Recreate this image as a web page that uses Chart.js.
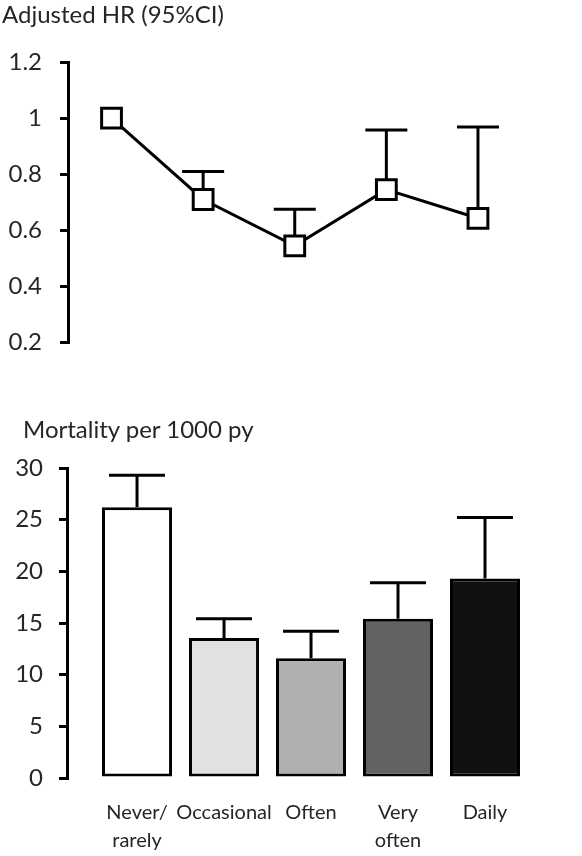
<!DOCTYPE html>
<html>
<head>
<meta charset="utf-8">
<script src="https://cdn.jsdelivr.net/npm/chart.js@4"></script>
<style>
  html, body { margin: 0; padding: 0; background: #fff; }
  body { width: 582px; height: 856px; position: relative; overflow: hidden; font-family: Lato, sans-serif; color: #262626; }
  .box { position: absolute; left: 0; width: 582px; }
  #top { top: 0; height: 375px; }
  #bottom { top: 415px; height: 441px; }
  .caption { position: absolute; font-size: 24px; line-height: 28px; white-space: nowrap; }
  #hrCaption { left: 2px; top: 0px; }
  #mortCaption { left: 23px; top: 415px; }
</style>
</head>
<body>
<div class="box" id="top"><canvas id="hr"></canvas></div>
<div class="box" id="bottom"><canvas id="mort"></canvas></div>
<div class="caption" id="hrCaption">Adjusted HR (95%CI)</div>
<div class="caption" id="mortCaption">Mortality per 1000 py</div>
<script>
const categories = ["Never/ rarely", "Occasional", "Often", "Very often", "Daily"];
const categoryTicks = [["Never/", "rarely"], ["Occasional"], ["Often"], ["Very", "often"], ["Daily"]];
const hrValues = [1.0, 0.71, 0.545, 0.745, 0.643];
const hrUpper = [null, 0.81, 0.675, 0.958, 0.968];
const mortValues = [26.2, 13.55, 11.6, 15.4, 19.3];
const mortUpper = [29.3, 15.4, 14.2, 18.9, 25.2];
const barColors = ["#ffffff", "#e1e1e1", "#b0b0b0", "#626262", "#111111"];

const textColor = "#262626";
const fontName = "Lato";

function errorBars(upper, values, capWidth, before) {
  function draw(chart) {
    var ctx = chart.ctx;
    var xs = chart.scales.x;
    var ys = chart.scales.y;
    ctx.save();
    ctx.strokeStyle = "#000";
    ctx.lineWidth = 3;
    for (var i = 0; i < values.length; i++) {
      if (upper[i] == null) continue;
      var x = xs.getPixelForValue(i);
      var y0 = ys.getPixelForValue(values[i]);
      var y1 = ys.getPixelForValue(upper[i]);
      ctx.beginPath();
      ctx.moveTo(x, y0);
      ctx.lineTo(x, y1);
      ctx.moveTo(x - capWidth / 2, y1);
      ctx.lineTo(x + capWidth / 2, y1);
      ctx.stroke();
    }
    ctx.restore();
  }
  if (before) return { id: "errBefore", beforeDatasetsDraw: draw };
  return { id: "errAfter", afterDatasetsDraw: draw };
}

function yAxis(min, max, step, width, pad, fmt) {
  return {
    min: min,
    max: max,
    ticks: {
      stepSize: step,
      color: textColor,
      font: { family: fontName, size: 24 },
      padding: pad,
      callback: fmt,
    },
    grid: { drawOnChartArea: false, color: "#000", lineWidth: 3, tickLength: 8 },
    border: { color: "#000", width: 3 },
    afterFit: function (s) { s.width = width; },
  };
}

new Chart(document.getElementById("hr"), {
  type: "line",
  data: {
    datasets: [
      {
        label: "Adjusted HR",
        data: hrValues.map(function (v, i) { return { x: i, y: v }; }),
        borderColor: "#000",
        borderWidth: 3,
        tension: 0,
        pointStyle: "rect",
        pointRadius: 14,
        pointBorderWidth: 3,
        pointBorderColor: "#000",
        pointBackgroundColor: "#fff",
      },
    ],
  },
  options: {
    animation: false,
    responsive: true,
    maintainAspectRatio: false,
    layout: { padding: { left: 0, right: 0, top: 62, bottom: 28 } },
    plugins: {
      legend: { display: false },
      tooltip: { enabled: false },
    },
    scales: {
      x: { type: "linear", display: false, min: -0.475, max: 4.95 },
      y: yAxis(0.2, 1.2, 0.2, 68, 18, function (v) { return String(Math.round(v * 10) / 10); }),
    },
  },
  plugins: [errorBars(hrUpper, hrValues, 42, true)],
});

new Chart(document.getElementById("mort"), {
  type: "bar",
  data: {
    datasets: [
      {
        label: "Mortality per 1000 py",
        data: mortValues.map(function (v, i) { return { x: i, y: v }; }),
        backgroundColor: barColors,
        borderColor: "#000",
        borderWidth: 3,
        borderSkipped: false,
        barPercentage: 1,
        categoryPercentage: 0.805,
      },
    ],
  },
  options: {
    animation: false,
    responsive: true,
    maintainAspectRatio: false,
    layout: { padding: { left: 0, right: 0, top: 53, bottom: 1 } },
    plugins: {
      legend: { display: false },
      tooltip: { enabled: false },
    },
    scales: {
      x: {
        type: "linear",
        min: -0.805,
        max: 5.115,
        offset: false,
        grid: { display: false, drawTicks: false },
        border: { display: false },
        afterBuildTicks: function (s) {
          s.ticks = categories.map(function (c, i) { return { value: i }; });
        },
        afterFit: function (s) { s.height = 77; },
        ticks: {
          autoSkip: false,
          maxRotation: 0,
          color: textColor,
          padding: 21,
          font: { family: fontName, size: 20, lineHeight: "28px" },
          callback: function (v) { return categoryTicks[v]; },
        },
      },
      y: yAxis(0, 30, 5, 67, 16),
    },
  },
  plugins: [errorBars(mortUpper, mortValues, 56, false)],
});
</script>
</body>
</html>
